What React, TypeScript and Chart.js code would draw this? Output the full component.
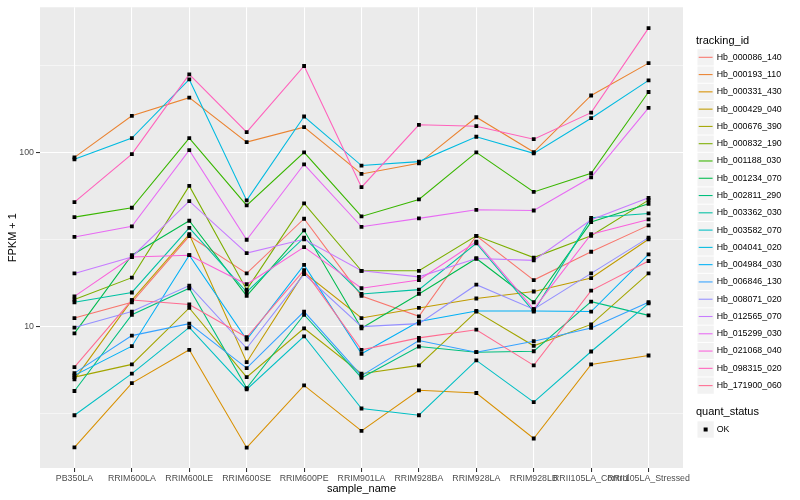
import React, { useEffect, useRef } from 'react';
import { Chart, registerables } from 'chart.js';

Chart.register(...registerables);

const categories = [
  'PB350LA', 'RRIM600LA', 'RRIM600LE', 'RRIM600SE', 'RRIM600PE', 'RRIM901LA',
  'RRIM928BA', 'RRIM928LA', 'RRIM928LB', 'RRII105LA_Control', 'RRII105LA_Stressed',
];

const seriesNames = [
  'Hb_000086_140', 'Hb_000193_110', 'Hb_000331_430', 'Hb_000429_040', 'Hb_000676_390',
  'Hb_000832_190', 'Hb_001188_030', 'Hb_001234_070', 'Hb_002811_290', 'Hb_003362_030',
  'Hb_003582_070', 'Hb_004041_020', 'Hb_004984_030', 'Hb_006846_130', 'Hb_008071_020',
  'Hb_012565_070', 'Hb_015299_030', 'Hb_021068_040', 'Hb_098315_020', 'Hb_171900_060',
];

const seriesColors = [
  '#F8766D', '#EA8331', '#D89000', '#C09B00', '#A3A500', '#7CAE00', '#39B600', '#00BB4E',
  '#00BF7D', '#00C1A3', '#00BFC4', '#00BAE0', '#00B0F6', '#35A2FF', '#9590FF', '#C77CFF',
  '#E76BF3', '#FA62DB', '#FF62BC', '#FF6C91',
];

// FPKM + 1 per sample, in category order
const hb000086_140 = [11.2, 13.8, 33.1, 20.2, 41.6, 15.0, 11.45, 33.2, 18.5, 26.9, 38.1];
const hb000193_110 = [93.6, 162, 206, 114.5, 139.5, 75.2, 86.5, 159, 100.4, 212, 325];
const hb000331_430 = [2.03, 4.74, 7.36, 2.02, 4.6, 2.52, 4.31, 4.16, 2.28, 6.07, 6.83];
const hb000429_040 = [4.98, 14.2, 33.9, 6.25, 20.4, 11.2, 12.8, 14.5, 15.9, 19.0, 31.7];
const hb000676_390 = [5.13, 6.07, 12.8, 5.13, 9.78, 5.37, 5.99, 12.2, 7.76, 10.3, 20.2];
const hb000832_190 = [14.3, 19.1, 64.2, 16.3, 50.9, 20.9, 20.9, 33.2, 24.9, 33.2, 53.2];
const hb001188_030 = [42.5, 48.1, 120.7, 49.6, 100, 42.9, 53.7, 100, 59.3, 75.9, 222];
const hb001234_070 = [9.15, 25.7, 40.5, 15.0, 35.7, 9.78, 15.4, 24.6, 13.8, 39.8, 50.7];
const hb002811_290 = [4.27, 11.7, 16.6, 4.44, 11.7, 5.09, 7.69, 7.13, 7.22, 13.9, 11.6];
const hb003362_030 = [13.8, 15.7, 36.9, 15.8, 32.4, 15.4, 16.3, 30.1, 12.2, 42.1, 44.6];
const hb003582_070 = [3.1, 5.37, 9.9, 4.36, 8.8, 3.39, 3.1, 6.4, 3.69, 7.2, 13.6];
const hb004041_020 = [91.2, 120.7, 262, 53, 160.6, 84, 88.5, 122.9, 98.7, 157, 259];
const hb004984_030 = [5.25, 7.72, 25.7, 8.43, 22.6, 6.98, 10.7, 12.3, 12.3, 12.2, 26.0];
const hb006846_130 = [5.41, 8.88, 10.4, 5.78, 12.2, 5.23, 8.32, 7.13, 8.24, 9.83, 13.8];
const hb008071_020 = [9.87, 12.2, 17.2, 7.51, 20.0, 10.0, 10.4, 17.4, 12.6, 20.2, 32.4];
const hb012565_070 = [20.2, 25.1, 52.5, 26.4, 31.7, 20.9, 19.3, 24.6, 24.0, 41.0, 54.8];
const hb015299_030 = [32.7, 37.6, 103, 31.5, 85.4, 37.4, 41.8, 46.8, 46.4, 71.9, 180];
const hb021068_040 = [14.9, 25.1, 25.7, 17.5, 28.6, 16.6, 18.5, 30.7, 12.6, 33.9, 41.2];
const hb098315_020 = [51.8, 97.8, 280, 130.6, 313, 63.1, 143.9, 141.3, 119, 169, 516];
const hb171900_060 = [5.85, 14.2, 13.4, 8.69, 21.1, 7.36, 8.62, 9.6, 5.99, 16.1, 23.8];

const seriesValues = [
  hb000086_140, hb000193_110, hb000331_430, hb000429_040, hb000676_390,
  hb000832_190, hb001188_030, hb001234_070, hb002811_290, hb003362_030,
  hb003582_070, hb004041_020, hb004984_030, hb006846_130, hb008071_020,
  hb012565_070, hb015299_030, hb021068_040, hb098315_020, hb171900_060,
];

const yMajorTicks = [10, 100];
const yMinorTicks = [3.1623, 31.623, 316.23];
const quantStatus = ['OK'];

const FONT = "'Liberation Sans', Arial, Helvetica, sans-serif";

export default function App() {
  const ref = useRef<HTMLCanvasElement>(null);

  useEffect(() => {
    document.body.style.margin = '0';
    const canvas = ref.current;
    if (!canvas) return;

    const datasets: any[] = seriesNames.map((name, i) => ({
      type: 'line',
      label: name,
      data: seriesValues[i].map((v, j) => ({ x: j, y: v })),
      borderColor: seriesColors[i],
      backgroundColor: seriesColors[i],
      borderWidth: 1.07,
      pointRadius: 0,
      pointHoverRadius: 0,
      tension: 0,
      fill: false,
      order: 100 - i,
    }));
    datasets.push({
      type: 'line',
      label: quantStatus[0],
      data: seriesValues.flatMap((vals) => vals.map((v, j) => ({ x: j, y: v }))),
      showLine: false,
      pointStyle: 'rect',
      pointRadius: 2.7,
      pointBackgroundColor: '#000000',
      pointBorderColor: '#000000',
      pointBorderWidth: 0,
      order: 0,
    });

    const bgPlugin = {
      id: 'panelBg',
      beforeDraw(chart: any) {
        const { ctx, chartArea: a } = chart;
        ctx.save();
        ctx.fillStyle = '#EBEBEB';
        ctx.fillRect(a.left, a.top, a.right - a.left, a.bottom - a.top);
        ctx.restore();
      },
    };

    const decoPlugin = {
      id: 'deco',
      afterDraw(chart: any) {
        const { ctx, chartArea: a } = chart;
        ctx.save();
        // axis titles
        ctx.fillStyle = '#000000';
        ctx.font = `11px ${FONT}`;
        ctx.textAlign = 'center';
        ctx.textBaseline = 'middle';
        ctx.fillText('sample_name', (a.left + a.right) / 2, 489);
        ctx.save();
        ctx.translate(12.5, (a.top + a.bottom) / 2);
        ctx.rotate(-Math.PI / 2);
        ctx.fillText('FPKM + 1', 0, 0);
        ctx.restore();

        // legend: tracking_id
        ctx.textAlign = 'left';
        ctx.font = `11px ${FONT}`;
        ctx.fillText('tracking_id', 696, 41);
        const keyX = 697;
        const keyW = 17.28;
        const step = 17.28;
        const y0 = 57.3;
        ctx.font = `8.8px ${FONT}`;
        seriesNames.forEach((name, i) => {
          const cy = y0 + i * step;
          ctx.fillStyle = '#F2F2F2';
          ctx.fillRect(keyX + 0.5, cy - step / 2 + 0.5, keyW - 1, step - 1);
          ctx.strokeStyle = seriesColors[i];
          ctx.lineWidth = 1.07;
          ctx.beginPath();
          ctx.moveTo(keyX + 1.7, cy);
          ctx.lineTo(keyX + keyW - 1.7, cy);
          ctx.stroke();
          ctx.fillStyle = '#000000';
          ctx.fillText(name, 716.7, cy);
        });

        // legend: quant_status
        ctx.font = `11px ${FONT}`;
        ctx.fillText('quant_status', 696, 412);
        const qy = 429.5;
        ctx.fillStyle = '#F2F2F2';
        ctx.fillRect(keyX + 0.5, qy - step / 2 + 0.5, keyW - 1, step - 1);
        ctx.fillStyle = '#000000';
        ctx.fillRect(keyX + keyW / 2 - 2, qy - 2, 4, 4);
        ctx.font = `8.8px ${FONT}`;
        ctx.fillText(quantStatus[0], 716.7, qy);
        ctx.restore();
      },
    };

    const isMajor = (v: number) => yMajorTicks.some((m) => Math.abs(m - v) < 1e-6);

    const chart = new Chart(canvas, {
      type: 'line',
      data: { datasets },
      plugins: [bgPlugin, decoPlugin],
      options: {
        animation: false,
        responsive: false,
        events: [],
        layout: { padding: { left: 0, top: 5.3, right: 117, bottom: 0 } },
        plugins: {
          legend: { display: false },
          tooltip: { enabled: false },
          title: { display: false },
        },
        scales: {
          x: {
            type: 'linear',
            min: -0.6,
            max: 10.6,
            afterBuildTicks(scale: any) {
              scale.ticks = categories.map((_, i) => ({ value: i }));
            },
            afterFit(scale: any) {
              scale.height = 32;
            },
            border: { display: false },
            grid: {
              color: '#FFFFFF',
              lineWidth: 1.07,
              drawTicks: true,
              tickLength: 4,
              tickColor: '#333333',
              tickWidth: 1.07,
            },
            ticks: {
              autoSkip: false,
              maxRotation: 0,
              minRotation: 0,
              padding: 1.5,
              color: '#4D4D4D',
              font: { family: FONT, size: 8.8 },
              callback: (v: any) => categories[Math.round(Number(v))] ?? '',
            },
          },
          y: {
            type: 'logarithmic',
            min: 1.544,
            max: 680,
            afterBuildTicks(scale: any) {
              scale.ticks = [...yMinorTicks, ...yMajorTicks]
                .sort((a, b) => a - b)
                .map((v) => ({ value: v }));
            },
            afterFit(scale: any) {
              scale.width = 40;
            },
            border: { display: false },
            grid: {
              color: '#FFFFFF',
              lineWidth: (c: any) => (isMajor(c.tick?.value) ? 1.07 : 0.53),
              drawTicks: true,
              tickLength: 4,
              tickColor: (c: any) => (isMajor(c.tick?.value) ? '#333333' : 'rgba(0,0,0,0)'),
              tickWidth: 1.07,
            },
            ticks: {
              autoSkip: false,
              padding: 2,
              color: '#4D4D4D',
              font: { family: FONT, size: 8.8 },
              callback: (v: any) => (isMajor(Number(v)) ? String(Number(v)) : ''),
            },
          },
        },
      } as any,
    });

    return () => {
      chart.destroy();
    };
  }, []);

  return (
    <div style={{ width: 800, height: 500, position: 'relative', background: '#FFFFFF' }}>
      <canvas ref={ref} width={800} height={500} style={{ width: 800, height: 500, display: 'block' }} />
    </div>
  );
}
